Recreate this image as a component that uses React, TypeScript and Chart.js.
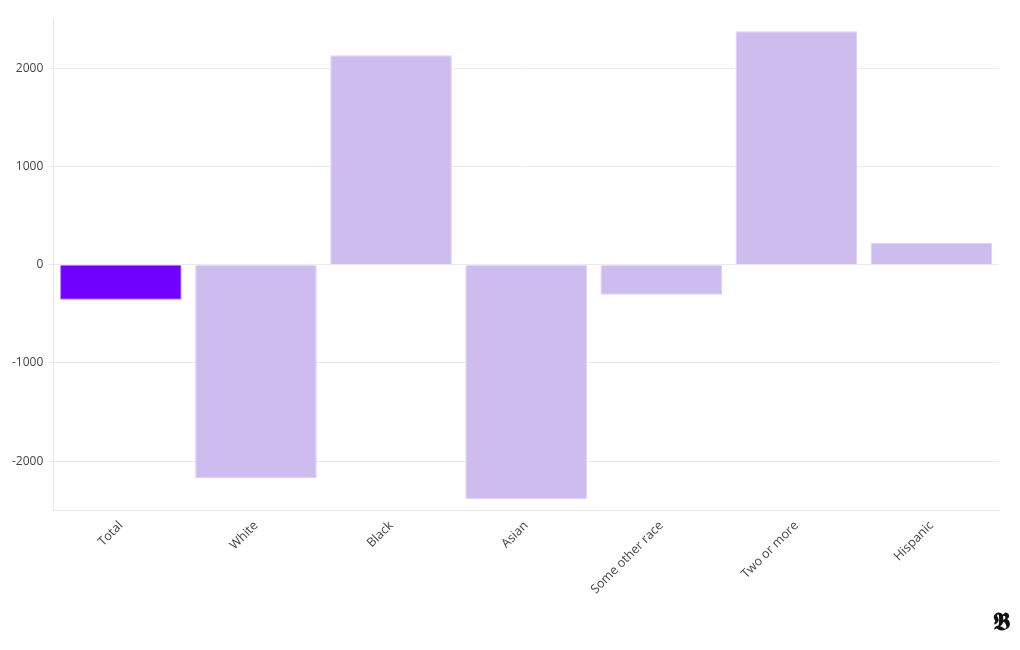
import React, { useEffect, useRef } from "react";
import { Chart, registerables } from "chart.js";

Chart.register(...registerables);

const categories = ["Total", "White", "Black", "Asian", "Some other race", "Two or more", "Hispanic"];
const values = [-357, -2173, 2133, -2388, -306, 2378, 224];
const barColors = ["#7000ff", "#cebcee", "#cebcee", "#cebcee", "#cebcee", "#cebcee", "#cebcee"];
const borderColors = ["#a77cff", "#ddd0f4", "#ddd0f4", "#ddd0f4", "#ddd0f4", "#ddd0f4", "#ddd0f4"];
const yTicks = [-2000, -1000, 0, 1000, 2000];

export default function App() {
  const ref = useRef<HTMLCanvasElement>(null);
  useEffect(() => {
    if (!ref.current) return;
    const chart = new Chart(ref.current, {
      type: "bar",
      data: {
        labels: categories,
        datasets: [
          {
            data: values,
            backgroundColor: barColors,
            borderColor: borderColors,
            borderWidth: 1,
            barPercentage: 0.9,
            categoryPercentage: 1,
          },
        ],
      },
      options: {
        animation: false,
        responsive: true,
        maintainAspectRatio: false,
        layout: { padding: { top: 9, right: 13, bottom: 42, left: 0 } },
        plugins: { legend: { display: false }, tooltip: { enabled: false } },
        scales: {
          x: {
            grid: { display: false, drawTicks: true, tickLength: 5, color: "#e6e6e6" },
            border: { display: true, color: "#e6e6e6" },
            ticks: {
              minRotation: 45,
              maxRotation: 45,
              color: "#444",
              font: { family: "'Open Sans', sans-serif", size: 12.5 },
            },
          },
          y: {
            min: -2500,
            max: 2500,
            afterBuildTicks: (axis: any) => {
              axis.ticks = yTicks.map((v) => ({ value: v }));
            },
            grid: { color: "#ebebeb", tickLength: 6 },
            border: { display: true, color: "#e6e6e6" },
            ticks: {
              color: "#444",
              padding: 4,
              callback: (v: any) => String(v),
              font: { family: "'Open Sans', sans-serif", size: 12 },
            },
          },
        },
      },
    });
    return () => chart.destroy();
  }, []);
  return (
    <div style={{ position: "relative", width: 1004, height: 634 }}>
      <canvas ref={ref} />
      <div
        style={{
          position: "absolute",
          right: 2,
          bottom: 6,
          fontFamily: "'DejaVu Serif', serif",
          fontWeight: "bold",
          fontSize: 24,
          color: "#111",
        }}
      >
        𝕭
      </div>
    </div>
  );
}
